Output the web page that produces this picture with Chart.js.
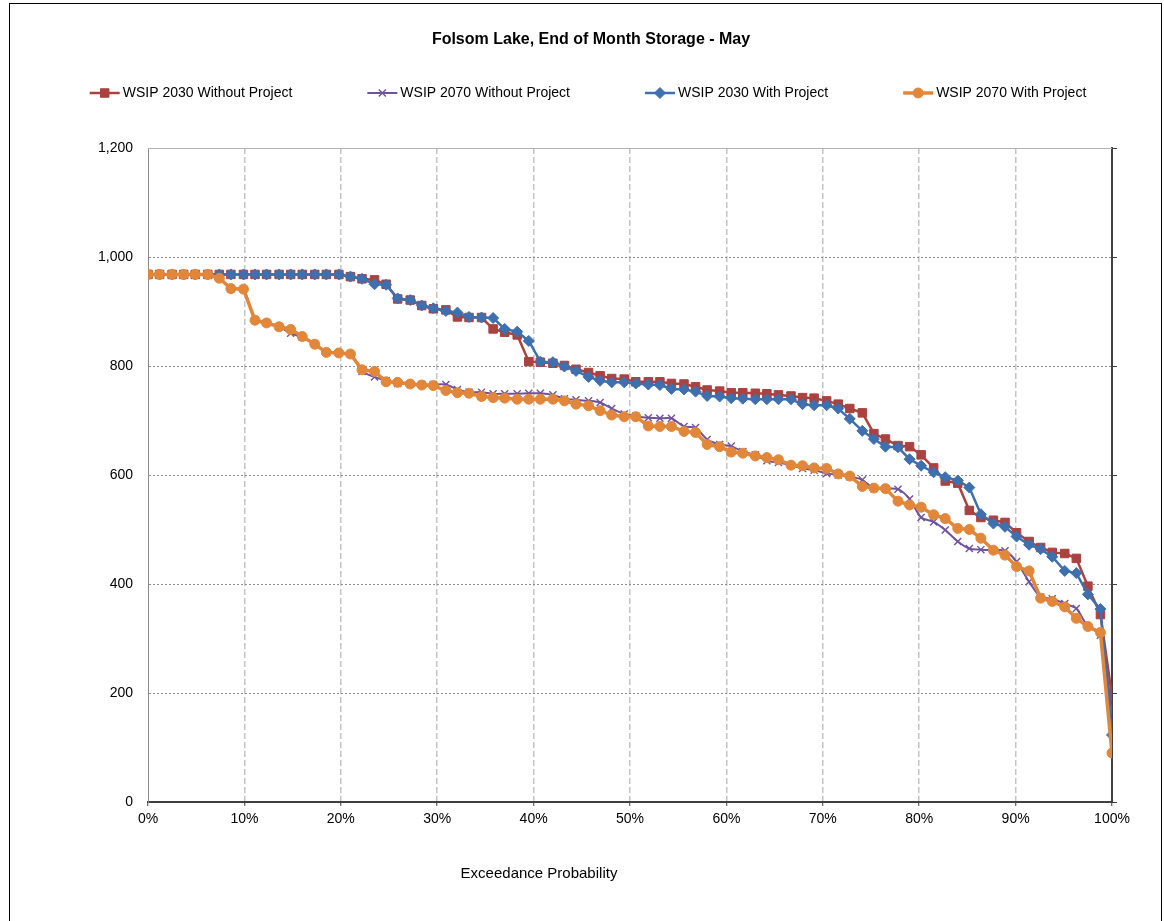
<!DOCTYPE html>
<html>
<head>
<meta charset="utf-8">
<script src="https://cdn.jsdelivr.net/npm/chart.js@4.4.1/dist/chart.umd.min.js"></script>
<style>
  html, body { margin: 0; padding: 0; background: #fff; }
  canvas { display: block; }
</style>
</head>
<body>
<canvas id="chart" width="1164" height="921"></canvas>
<script>
const chartTitle = 'Folsom Lake, End of Month Storage - May';
const xAxisTitle = 'Exceedance Probability';

// exceedance probability (%) of each sorted year
const exceedance = [0, 1.2, 2.5, 3.7, 4.9, 6.2, 7.4, 8.6, 9.9, 11.1, 12.3, 13.6, 14.8, 16.0, 17.3, 18.5, 19.8,
  21.0, 22.2, 23.5, 24.7, 25.9, 27.2, 28.4, 29.6, 30.9, 32.1, 33.3, 34.6, 35.8, 37.0, 38.3, 39.5,
  40.7, 42.0, 43.2, 44.4, 45.7, 46.9, 48.1, 49.4, 50.6, 51.9, 53.1, 54.3, 55.6, 56.8, 58.0, 59.3,
  60.5, 61.7, 63.0, 64.2, 65.4, 66.7, 67.9, 69.1, 70.4, 71.6, 72.8, 74.1, 75.3, 76.5, 77.8, 79.0,
  80.2, 81.5, 82.7, 84.0, 85.2, 86.4, 87.7, 88.9, 90.1, 91.4, 92.6, 93.8, 95.1, 96.3, 97.5, 98.8, 100];

// storage, TAF
const wsip2030Without = [968, 968, 968, 968, 968, 968, 968, 968, 968, 968, 968, 968, 968, 968, 968, 968, 968,
  964, 960, 958, 950, 923, 921, 911, 905, 903, 890, 889, 889, 868, 862, 857, 808,
  807, 805, 801, 794, 788, 782, 777, 776, 771, 771, 771, 768, 767, 762, 756, 754,
  751, 751, 750, 749, 747, 745, 742, 741, 736, 730, 722, 714, 676, 666, 654, 652,
  637, 613, 589, 585, 535, 522, 517, 513, 494, 478, 467, 458, 456, 447, 396, 344, 194];

const wsip2070Without = [968, 968, 968, 968, 968, 968, 961, 942, 941, 884, 879, 872, 860, 853, 840, 825, 824,
  822, 790, 780, 773, 768, 767, 766, 766, 766, 757, 752, 752, 749, 749, 749, 750,
  750, 747, 740, 738, 736, 733, 722, 712, 708, 705, 704, 704, 689, 687, 665, 656,
  653, 643, 637, 626, 623, 618, 612, 609, 603, 600, 597, 591, 575, 575, 574, 556,
  522, 514, 499, 478, 465, 463, 462, 461, 441, 404, 376, 373, 364, 355, 322, 306, 163];

const wsip2030With = [968, 968, 968, 968, 968, 968, 968, 968, 968, 968, 968, 968, 968, 968, 968, 968, 968,
  964, 960, 950, 949, 924, 921, 911, 906, 901, 898, 890, 889, 888, 868, 863, 846,
  808, 807, 799, 791, 780, 773, 770, 770, 768, 766, 765, 758, 757, 753, 745, 744,
  741, 740, 739, 739, 739, 739, 730, 728, 728, 722, 703, 681, 666, 652, 651, 629,
  617, 605, 596, 590, 577, 528, 511, 505, 487, 472, 464, 450, 424, 420, 381, 354, 123];

const wsip2070With = [968, 968, 968, 968, 968, 968, 961, 942, 941, 884, 879, 872, 867, 854, 840, 825, 824,
  822, 793, 790, 771, 770, 767, 765, 764, 755, 751, 750, 744, 742, 741, 739, 739,
  739, 739, 736, 730, 727, 718, 710, 707, 707, 690, 689, 689, 680, 678, 656, 652,
  642, 640, 635, 632, 628, 618, 617, 613, 612, 602, 598, 579, 576, 575, 552, 545,
  541, 527, 520, 502, 500, 484, 462, 453, 432, 424, 374, 368, 358, 337, 322, 311, 90];

const FONT = 'Arial, "Liberation Sans", sans-serif';
Chart.defaults.font.family = FONT;
Chart.defaults.color = '#000';

function pts(vals) {
  return exceedance.map((x, i) => ({ x, y: vals[i] }));
}

function series(label, vals, color, style, radius, width, order, tension) {
  return {
    label, data: pts(vals), order,
    borderColor: color, backgroundColor: color,
    borderWidth: width, tension: tension || 0,
    pointStyle: style, pointRadius: radius, pointHoverRadius: radius,
    pointBackgroundColor: color, pointBorderColor: color,
    pointBorderWidth: style === 'crossRot' ? 1.4 : 1
  };
}

const datasets = [
  series('WSIP 2030 Without Project', wsip2030Without, '#AA423F', 'rect', 6, 2.5, 3),
  series('WSIP 2070 Without Project', wsip2070Without, '#7052A0', 'crossRot', 5, 2, 2, 0.25),
  series('WSIP 2030 With Project', wsip2030With, '#3E70AF', 'rectRot', 5.5, 2.5, 1),
  series('WSIP 2070 With Project', wsip2070With, '#E2873A', 'circle', 5, 3.5, 0)
];

// title, legend, axis title and frame drawn by hand to match the original layout
const decor = {
  id: 'decor',
  beforeDatasetsDraw(chart) {
    const { ctx, chartArea: a } = chart;
    ctx.save();
    ctx.strokeStyle = '#b4b4b4';
    ctx.lineWidth = 1;
    ctx.beginPath();
    ctx.moveTo(a.left, a.top + 0.5);
    ctx.lineTo(a.right, a.top + 0.5);
    ctx.stroke();
    ctx.restore();
  },
  afterDraw(chart) {
    const { ctx } = chart;
    ctx.save();
    ctx.strokeStyle = '#000';
    ctx.lineWidth = 1;
    ctx.strokeRect(9.5, 3.5, 1152, 940);

    ctx.fillStyle = '#000';
    ctx.textBaseline = 'middle';
    ctx.textAlign = 'center';
    ctx.font = 'bold 16px ' + FONT;
    ctx.fillText(chartTitle, 591, 40);

    ctx.font = '15px ' + FONT;
    ctx.fillText(xAxisTitle, 539, 874);

    // legend: line + marker, text, fixed gap between entries
    ctx.font = '14px ' + FONT;
    const gap = 75, lineLen = 30, textGap = 3;
    const widths = datasets.map(d => ctx.measureText(d.label).width);
    const total = widths.reduce((s, w) => s + lineLen + textGap + w, 0) + gap * (datasets.length - 1);
    let x = 588 - total / 2;
    const y = 93;
    ctx.textAlign = 'left';
    datasets.forEach((d, i) => {
      ctx.strokeStyle = d.borderColor;
      ctx.lineWidth = d.borderWidth;
      ctx.beginPath();
      ctx.moveTo(x, y);
      ctx.lineTo(x + lineLen, y);
      ctx.stroke();
      ctx.fillStyle = d.pointBackgroundColor;
      ctx.lineWidth = d.pointBorderWidth;
      Chart.helpers.drawPoint(ctx, { pointStyle: d.pointStyle, radius: d.pointRadius, rotation: 0, borderWidth: d.pointBorderWidth }, x + lineLen / 2, y);
      ctx.fillStyle = '#000';
      ctx.fillText(d.label, x + lineLen + textGap, y);
      x += lineLen + textGap + widths[i] + gap;
    });
    ctx.restore();
  }
};

new Chart(document.getElementById('chart'), {
  type: 'line',
  data: { datasets },
  options: {
    responsive: false,
    animation: false,
    layout: { padding: { top: 148, left: 0, right: 0, bottom: 0 } },
    plugins: { legend: { display: false }, title: { display: false }, tooltip: { enabled: false } },
    scales: {
      x: {
        type: 'linear', min: 0, max: 100,
        afterFit: s => { s.height = 119; },
        ticks: { stepSize: 10, padding: 5, font: { size: 14 }, color: '#000', callback: v => v + '%' },
        grid: {
          color: c => (c.tick && (c.tick.value === 0 || c.tick.value === 100)) ? 'rgba(0,0,0,0)' : '#c4c4c4',
          lineWidth: 1.5, drawTicks: true, tickLength: 4, tickColor: '#404040', tickWidth: 1
        },
        border: { color: '#404040', width: 2, dash: [6, 3] }
      },
      y: {
        position: 'left', min: 0, max: 1200,
        afterFit: s => { s.width = 148; },
        ticks: { stepSize: 200, padding: 15, font: { size: 14 }, color: '#000' },
        grid: {
          color: c => (c.tick && (c.tick.value === 0 || c.tick.value === 1200)) ? 'rgba(0,0,0,0)' : '#8c8c8c',
          lineWidth: 1, drawTicks: false
        },
        border: { color: '#8a8a8a', width: 1, dash: [2, 2] }
      },
      y2: {
        position: 'right', min: 0, max: 1200,
        afterFit: s => { s.width = 52; },
        ticks: { stepSize: 200, display: false },
        grid: { drawOnChartArea: false, drawTicks: true, tickLength: 5, tickColor: '#404040', tickWidth: 1 },
        border: { color: '#404040', width: 2 }
      }
    }
  },
  plugins: [decor]
});
</script>
</body>
</html>
